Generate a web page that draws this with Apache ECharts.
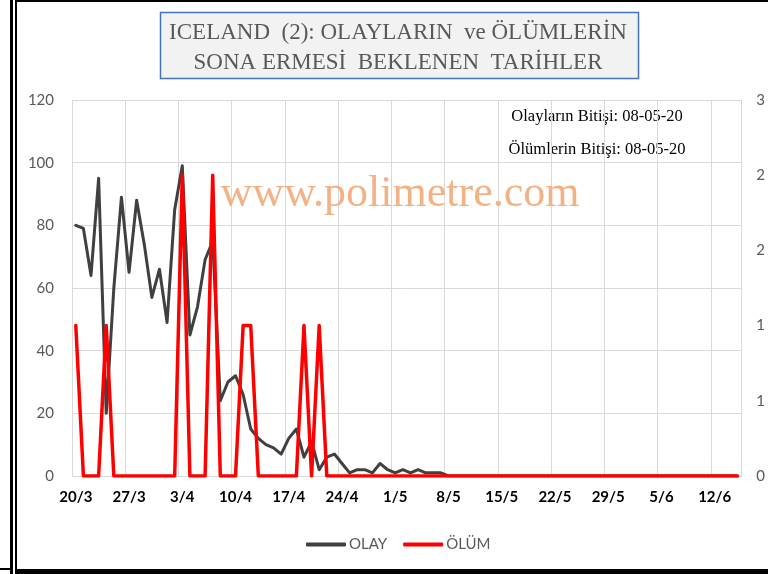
<!DOCTYPE html>
<html>
<head>
<meta charset="utf-8">
<script src="https://cdn.jsdelivr.net/npm/echarts@6/dist/echarts.min.js"></script>
<style>
    html, body { margin: 0; padding: 0; background: #fff; }
    #chart { width: 768px; height: 574px; }
</style>
</head>
<body>
<div id="chart"></div>
<script>
    // gün etiketleri (20/3 - 15/6)
    var days = [
        '20/3','21/3','22/3','23/3','24/3','25/3','26/3','27/3','28/3','29/3','30/3','31/3',
        '1/4','2/4','3/4','4/4','5/4','6/4','7/4','8/4','9/4','10/4','11/4','12/4','13/4','14/4','15/4',
        '16/4','17/4','18/4','19/4','20/4','21/4','22/4','23/4','24/4','25/4','26/4','27/4','28/4','29/4','30/4',
        '1/5','2/5','3/5','4/5','5/5','6/5','7/5','8/5','9/5','10/5','11/5','12/5','13/5','14/5','15/5',
        '16/5','17/5','18/5','19/5','20/5','21/5','22/5','23/5','24/5','25/5','26/5','27/5','28/5','29/5','30/5','31/5',
        '1/6','2/6','3/6','4/6','5/6','6/6','7/6','8/6','9/6','10/6','11/6','12/6','13/6','14/6','15/6'
    ];

    var olay = [
        80, 79, 64, 95, 20, 60, 89, 65, 88, 74, 57, 66, 49, 85, 99, 45, 54, 69, 75, 24,
        30, 32, 26, 15, 12, 10, 9, 7, 12, 15, 6, 11, 2, 6, 7, 4, 1, 2, 2, 1,
        4, 2, 1, 2, 1, 2, 1, 1, 1, 0, 0, 0, 0, 0, 0, 0, 0, 0, 0, 0,
        0, 0, 0, 0, 0, 0, 0, 0, 0, 0, 0, 0, 0, 0, 0, 0, 0, 0, 0, 0,
        0, 0, 0, 0, 0, 0, 0, 0
    ];

    var olum = [
        1, 0, 0, 0, 1, 0, 0, 0, 0, 0, 0, 0, 0, 0, 2, 0, 0, 0, 2, 0,
        0, 0, 1, 1, 0, 0, 0, 0, 0, 0, 1, 0, 1, 0, 0, 0, 0, 0, 0, 0,
        0, 0, 0, 0, 0, 0, 0, 0, 0, 0, 0, 0, 0, 0, 0, 0, 0, 0, 0, 0,
        0, 0, 0, 0, 0, 0, 0, 0, 0, 0, 0, 0, 0, 0, 0, 0, 0, 0, 0, 0,
        0, 0, 0, 0, 0, 0, 0, 0
    ];

    var titleLines = ['ICELAND  (2): OLAYLARIN  ve ÖLÜMLERİN', 'SONA ERMESİ  BEKLENEN  TARİHLER'];
    var notes = ['Olayların Bitişi: 08-05-20', 'Ölümlerin Bitişi: 08-05-20'];

    var sans = 'Lato, "Open Sans", sans-serif';
    var serif = '"Liberation Serif", "DejaVu Serif", serif';

    var chart = echarts.init(document.getElementById('chart'));

    chart.setOption({
        animation: false,
        grid: { left: 72, right: 26, top: 100, bottom: 98 },
        legend: {
            left: 301,
            top: 532,
            itemWidth: 40,
            itemHeight: 4,
            itemGap: 16,
            icon: 'roundRect',
            textStyle: { color: '#595959', fontSize: 15, fontFamily: sans, padding: [0, 0, 0, -2] },
            data: ['OLAY', 'ÖLÜM']
        },
        xAxis: {
            type: 'category',
            data: days,
            boundaryGap: true,
            axisLine: { lineStyle: { color: '#d9d9d9' } },
            axisTick: { interval: 6, length: 4, lineStyle: { color: '#d9d9d9' } },
            splitLine: { show: true, interval: 6, lineStyle: { color: '#d9d9d9' } },
            axisLabel: { interval: 6, color: '#000', fontWeight: 'bold', fontSize: 15, fontFamily: sans, margin: 14 }
        },
        yAxis: [{
            type: 'value',
            min: 0,
            max: 120,
            interval: 20,
            axisLine: { show: false },
            axisTick: { show: false },
            splitLine: { lineStyle: { color: '#d9d9d9' } },
            axisLabel: { color: '#595959', fontSize: 15, fontFamily: sans, margin: 18 }
        }, {
            type: 'value',
            min: 0,
            max: 2.5,
            interval: 0.5,
            axisLine: { show: false },
            axisTick: { show: false },
            splitLine: { show: false },
            axisLabel: {
                color: '#595959', fontSize: 15, fontFamily: sans, margin: 15,
                formatter: function (v) { return String(Math.round(v)); }
            }
        }],
        series: [{
            name: 'OLAY',
            type: 'line',
            data: olay,
            symbol: 'none',
            itemStyle: { color: '#404040' },
            lineStyle: { color: '#404040', width: 3, join: 'round', cap: 'round' }
        }, {
            name: 'ÖLÜM',
            type: 'line',
            yAxisIndex: 1,
            data: olum,
            symbol: 'none',
            itemStyle: { color: '#ff0000' },
            lineStyle: { color: '#ff0000', width: 3.5, join: 'round', cap: 'round' }
        }],
        graphic: [
            // çerçeve
            { type: 'rect', shape: { x: 10, y: 0, width: 3, height: 574 }, style: { fill: '#000' }, silent: true },
            { type: 'rect', shape: { x: 0, y: 568, width: 10, height: 2 }, style: { fill: '#000' }, silent: true },
            { type: 'rect', shape: { x: 15, y: 0, width: 2, height: 574 }, style: { fill: '#000' }, silent: true },
            { type: 'rect', shape: { x: 15, y: 0, width: 760, height: 2 }, style: { fill: '#000' }, silent: true },
            { type: 'rect', shape: { x: 15, y: 569, width: 760, height: 5 }, style: { fill: '#000' }, silent: true },
            // başlık kutusu
            {
                type: 'rect', shape: { x: 160.5, y: 12.5, width: 478, height: 66 },
                style: { fill: '#f2f2f2', stroke: '#4472c4', lineWidth: 1.5 }, silent: true
            },
            {
                type: 'text', x: 398, y: 18,
                style: {
                    text: titleLines.join('\n'), fill: '#595959', font: '23px ' + serif,
                    align: 'center', lineHeight: 30
                }, silent: true
            },
            // notlar
            {
                type: 'text', x: 597, y: 108,
                style: { text: notes[0], fill: '#000', font: '16.5px ' + serif, align: 'center' }, silent: true
            },
            {
                type: 'text', x: 597, y: 141,
                style: { text: notes[1], fill: '#000', font: '16.5px ' + serif, align: 'center' }, silent: true
            },
            // filigran
            {
                type: 'text', x: 400, y: 172,
                style: { text: 'www.polimetre.com', fill: '#f4b183', font: '44px ' + serif, align: 'center' },
                silent: true, z: 100
            }
        ]
    });
</script>
</body>
</html>
